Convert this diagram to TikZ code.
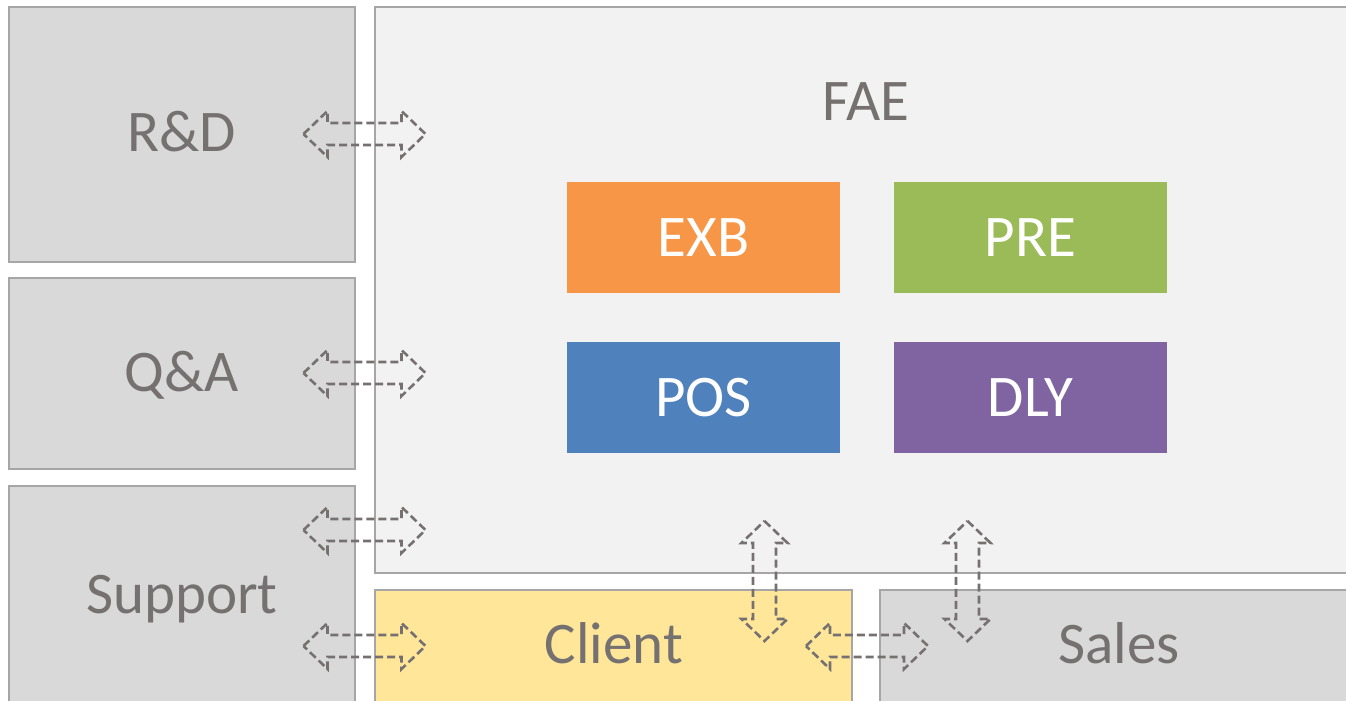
\documentclass[tikz,border=0pt]{standalone}
\usepackage{fontspec}
\setmainfont{Carlito}
\definecolor{bordergray}{HTML}{A6A6A6}
\definecolor{boxgray}{HTML}{D9D9D9}
\definecolor{faegray}{HTML}{F2F2F2}
\definecolor{clientyellow}{HTML}{FFE699}
\definecolor{txtgray}{HTML}{767171}
\definecolor{exbor}{HTML}{F79646}
\definecolor{pregr}{HTML}{9BBB59}
\definecolor{posbl}{HTML}{4F81BD}
\definecolor{dlypu}{HTML}{8064A2}
\tikzset{
  outerbox/.style={draw=bordergray, line width=2pt, inner sep=0pt, outer sep=0pt},
  subbox/.style={inner sep=0pt, outer sep=0pt, draw=none},
  bigtext/.style={font=\fontsize{59}{61}\selectfont, text=txtgray, inner sep=0pt, anchor=base},
  whitetext/.style={font=\fontsize{59}{61}\selectfont, text=white, inner sep=0pt, anchor=base},
  dasharrow/.style={draw=txtgray, line width=2.6pt, dash pattern=on 8pt off 4pt, line join=miter}
}
% horizontal double block arrow: center x, center y
\newcommand{\hbarrow}[2]{%
  \draw[dasharrow] (#1-61,#2) -- (#1-37,#2-23) -- (#1-37,#2-11) -- (#1+37,#2-11) -- (#1+37,#2-23)
    -- (#1+61,#2) -- (#1+37,#2+23) -- (#1+37,#2+11) -- (#1-37,#2+11) -- (#1-37,#2+23) -- cycle;}
\newcommand{\vbarrow}[2]{%
  \draw[dasharrow] (#1,#2-60) -- (#1+23,#2-38) -- (#1+11.5,#2-38) -- (#1+11.5,#2+38) -- (#1+23,#2+38)
    -- (#1,#2+60) -- (#1-23,#2+38) -- (#1-11.5,#2+38) -- (#1-11.5,#2-38) -- (#1-23,#2-38) -- cycle;}
\begin{document}
\begin{tikzpicture}[x=1pt,y=-1pt]
\useasboundingbox (0,0) rectangle (1346,701);
\clip (0,0) rectangle (1346,701);
\fill[white] (0,0) rectangle (1346,701);
% left boxes
\node[outerbox, fill=boxgray, minimum width=346pt, minimum height=255pt] (rd) at (182,134.5) {};
\node[outerbox, fill=boxgray, minimum width=346pt, minimum height=191pt] (qa) at (182,373.5) {};
\node[outerbox, fill=boxgray, minimum width=346pt, minimum height=240pt] (sup) at (182,606) {};
% FAE
\node[outerbox, fill=faegray, minimum width=1000pt, minimum height=566pt, anchor=north west] (fae) at (375,7) {};
% client and sales
\node[outerbox, fill=clientyellow, minimum width=477pt, minimum height=130pt, anchor=north west] (client) at (375,590) {};
\node[outerbox, fill=boxgray, minimum width=500pt, minimum height=130pt, anchor=north west] (sales) at (880,590) {};
% inner boxes
\node[subbox, fill=exbor, minimum width=273pt, minimum height=111pt, anchor=north west] (exb) at (567,182) {};
\node[subbox, fill=pregr, minimum width=273pt, minimum height=111pt, anchor=north west] (pre) at (894,182) {};
\node[subbox, fill=posbl, minimum width=273pt, minimum height=111pt, anchor=north west] (pos) at (567,342) {};
\node[subbox, fill=dlypu, minimum width=273pt, minimum height=111pt, anchor=north west] (dly) at (894,342) {};
% texts
\node[bigtext] (trd) at (182,151) {R\&D};
\node[bigtext] (tqa) at (182,391) {Q\&A};
\node[bigtext] (tsup) at (182,613) {Support};
\node[bigtext] (tfae) at (866,120) {FAE};
\node[bigtext] (tclient) at (614,663) {Client};
\node[bigtext] (tsales) at (1119,663) {Sales};
\node[whitetext] (texb) at (703.5,256) {EXB};
\node[whitetext] (tpre) at (1030.5,256) {PRE};
\node[whitetext] (tpos) at (703.5,416) {POS};
\node[whitetext] (tdly) at (1030.5,416) {DLY};
% arrows
\hbarrow{364.5}{134}
\hbarrow{364.5}{373}
\hbarrow{364.5}{530}
\hbarrow{364.5}{646}
\hbarrow{867}{646}
\vbarrow{764.5}{581}
\vbarrow{967.5}{581}
\end{tikzpicture}
\end{document}
